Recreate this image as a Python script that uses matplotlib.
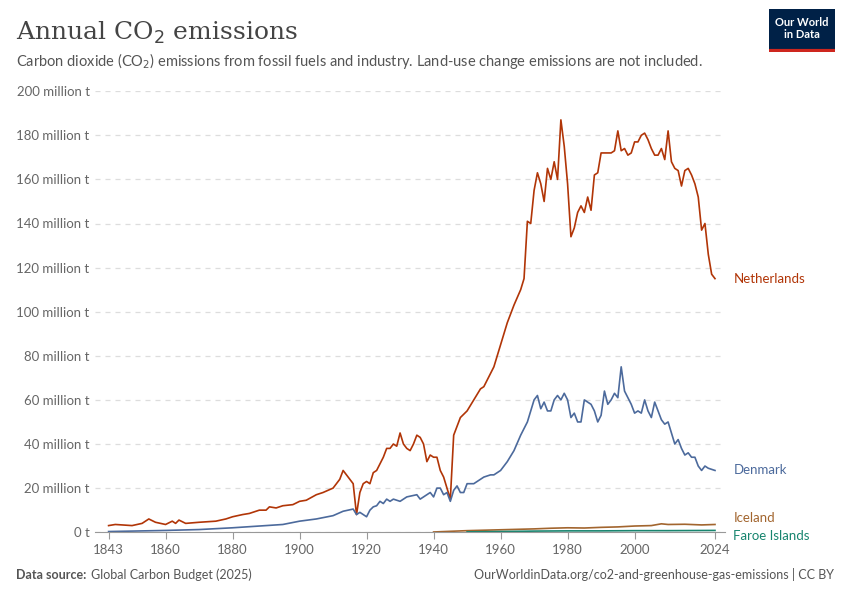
import matplotlib.pyplot as plt
from matplotlib.ticker import FixedLocator

plt.rcParams['font.family'] = ['Lato', 'DejaVu Sans']

netherlands = {
    1843: 3, 1845: 3.5, 1850: 3, 1853: 4, 1855: 6, 1857: 4.5, 1860: 3.5, 1862: 5, 1863: 4,
    1864: 5.5, 1866: 4, 1870: 4.5, 1875: 5, 1878: 6, 1880: 7, 1883: 8, 1885: 8.5, 1888: 10,
    1890: 10, 1891: 11.5, 1893: 11, 1895: 12, 1898: 12.5, 1900: 14, 1902: 14.5, 1905: 17,
    1907: 18, 1910: 20, 1912: 24, 1913: 28, 1915: 24, 1916: 22, 1917: 8, 1918: 18, 1919: 22,
    1920: 23, 1921: 22, 1922: 27, 1923: 28, 1925: 34, 1926: 38, 1927: 38, 1928: 40, 1929: 39,
    1930: 45, 1931: 40, 1932: 38, 1933: 37, 1934: 40, 1935: 44, 1936: 43, 1937: 40, 1938: 32,
    1939: 35, 1940: 34, 1941: 34, 1942: 28, 1943: 25, 1944: 20, 1945: 15, 1946: 44, 1947: 48,
    1948: 52, 1950: 55, 1952: 60, 1954: 65, 1955: 66, 1957: 72, 1958: 75, 1960: 85, 1962: 95,
    1964: 103, 1966: 110, 1967: 115, 1968: 141, 1969: 140, 1970: 155, 1971: 163, 1972: 158,
    1973: 150, 1974: 165, 1975: 160, 1976: 168, 1977: 160, 1978: 187, 1979: 175, 1980: 158,
    1981: 134, 1982: 138, 1983: 145, 1984: 148, 1985: 145, 1986: 152, 1987: 146, 1988: 162,
    1989: 163, 1990: 172, 1991: 172, 1992: 172, 1993: 172, 1994: 173, 1995: 182, 1996: 173,
    1997: 174, 1998: 171, 1999: 172, 2000: 177, 2001: 177, 2002: 180, 2003: 181, 2004: 178,
    2005: 174, 2006: 171, 2007: 171, 2008: 174, 2009: 169, 2010: 182, 2011: 168, 2012: 165,
    2013: 164, 2014: 157, 2015: 164, 2016: 165, 2017: 162, 2018: 158, 2019: 152, 2020: 137,
    2021: 140, 2022: 126, 2023: 117, 2024: 115,
}

denmark = {
    1843: 0.3, 1850: 0.5, 1860: 0.8, 1870: 1.2, 1880: 2, 1885: 2.5, 1890: 3, 1895: 3.5,
    1900: 5, 1905: 6, 1910: 7.5, 1913: 9.5, 1916: 10.5, 1917: 8, 1918: 9, 1920: 7, 1921: 10,
    1922: 11.5, 1923: 12, 1924: 14, 1925: 13, 1926: 15, 1927: 14, 1928: 15, 1930: 14, 1932: 16,
    1935: 17, 1936: 15, 1937: 16, 1938: 17, 1939: 18, 1940: 16, 1941: 20, 1942: 20, 1943: 17,
    1944: 18, 1945: 14, 1946: 19, 1947: 21, 1948: 18, 1949: 18, 1950: 22, 1952: 22, 1955: 25,
    1957: 26, 1958: 26, 1960: 28, 1962: 32, 1964: 37, 1966: 44, 1968: 50, 1969: 55, 1970: 60,
    1971: 62, 1972: 56, 1973: 59, 1974: 55, 1975: 55, 1976: 60, 1977: 62, 1978: 60, 1979: 63,
    1980: 60, 1981: 52, 1982: 54, 1983: 50, 1984: 50, 1985: 60, 1986: 59, 1987: 58, 1988: 55,
    1989: 50, 1990: 53, 1991: 64, 1992: 58, 1993: 60, 1994: 63, 1995: 61, 1996: 75, 1997: 64,
    1998: 61, 1999: 58, 2000: 54, 2001: 55, 2002: 54, 2003: 60, 2004: 55, 2005: 52, 2006: 59,
    2007: 55, 2008: 51, 2009: 49, 2010: 50, 2011: 45, 2012: 40, 2013: 42, 2014: 38, 2015: 35,
    2016: 36, 2017: 34, 2018: 34, 2019: 30, 2020: 28, 2021: 30, 2022: 29, 2023: 28.5, 2024: 28,
}

iceland = {
    1940: 0.1, 1945: 0.4, 1950: 0.7, 1955: 0.9, 1960: 1.1, 1965: 1.3, 1970: 1.5, 1975: 1.8,
    1980: 2.0, 1985: 1.9, 1990: 2.2, 1995: 2.4, 2000: 2.8, 2005: 3.0, 2008: 3.8, 2010: 3.5,
    2015: 3.6, 2020: 3.3, 2024: 3.5,
}

faroe = {
    1950: 0.15, 1955: 0.2, 1960: 0.3, 1965: 0.4, 1970: 0.5, 1980: 0.6, 1990: 0.6,
    2000: 0.7, 2010: 0.7, 2024: 0.8,
}

series = [
    ("Netherlands", netherlands, "#b13507"),
    ("Denmark", denmark, "#4c6a9c"),
    ("Iceland", iceland, "#a2652e"),
    ("Faroe Islands", faroe, "#18856f"),
]

fig = plt.figure(figsize=(8.5, 6), dpi=100)
ax = fig.add_axes([0.112, 0.113, 0.741, 0.735])

label_y = {"Netherlands": 115, "Denmark": 28, "Iceland": 6.5, "Faroe Islands": -1.5}
for name, d, color in series:
    years = list(d.keys())
    vals = list(d.values())
    ax.plot(years, vals, color=color, lw=1.2)
    ax.text(2029.5, label_y[name], name, color=color, fontsize=9.5, va="center")

ax.set_xlim(1839, 2027)
ax.set_ylim(0, 200)
ax.xaxis.set_major_locator(FixedLocator([1843, 1860, 1880, 1900, 1920, 1940, 1960, 1980, 2000, 2024]))
ax.set_yticks(range(0, 201, 20))
ax.set_yticklabels(["0 t"] + [f"{v} million t" for v in range(20, 201, 20)])
ax.yaxis.grid(True, ls=(0, (4, 4)), color="#dddddd", lw=0.9)
for s in ["top", "right", "left"]:
    ax.spines[s].set_visible(False)
ax.spines["bottom"].set_color("#999999")
ax.tick_params(axis="y", length=0, colors="#666666", labelsize=9.5, pad=4)
ax.tick_params(axis="x", length=5, color="#999999", colors="#666666", labelsize=9.5)

fig.text(0.019, 0.945, "Annual CO$_2$ emissions", fontsize=18, family="DejaVu Serif",
         color="#444444", va="center")
fig.text(0.019, 0.898, "Carbon dioxide (CO$_2$) emissions from fossil fuels and industry. "
         "Land-use change emissions are not included.", fontsize=10.5, color="#555555", va="center")
fig.text(0.019, 0.035, "Data source:", fontsize=9, color="#555555", fontweight="bold")
fig.text(0.107, 0.035, "Global Carbon Budget (2025)", fontsize=9, color="#555555")
fig.text(0.981, 0.035, "OurWorldinData.org/co2-and-greenhouse-gas-emissions | CC BY",
         fontsize=9, color="#555555", ha="right")

logo = fig.add_axes([0.905, 0.913, 0.077, 0.072])
logo.set_facecolor("#002147")
logo.set_xticks([])
logo.set_yticks([])
for s in logo.spines.values():
    s.set_visible(False)
logo.axhline(0.02, color="#ce261e", lw=3)
logo.text(0.5, 0.55, "Our World\nin Data", color="white", fontsize=8, ha="center",
          va="center", transform=logo.transAxes, fontweight="bold", linespacing=1.1)

fig.savefig("out.png", dpi=100)
